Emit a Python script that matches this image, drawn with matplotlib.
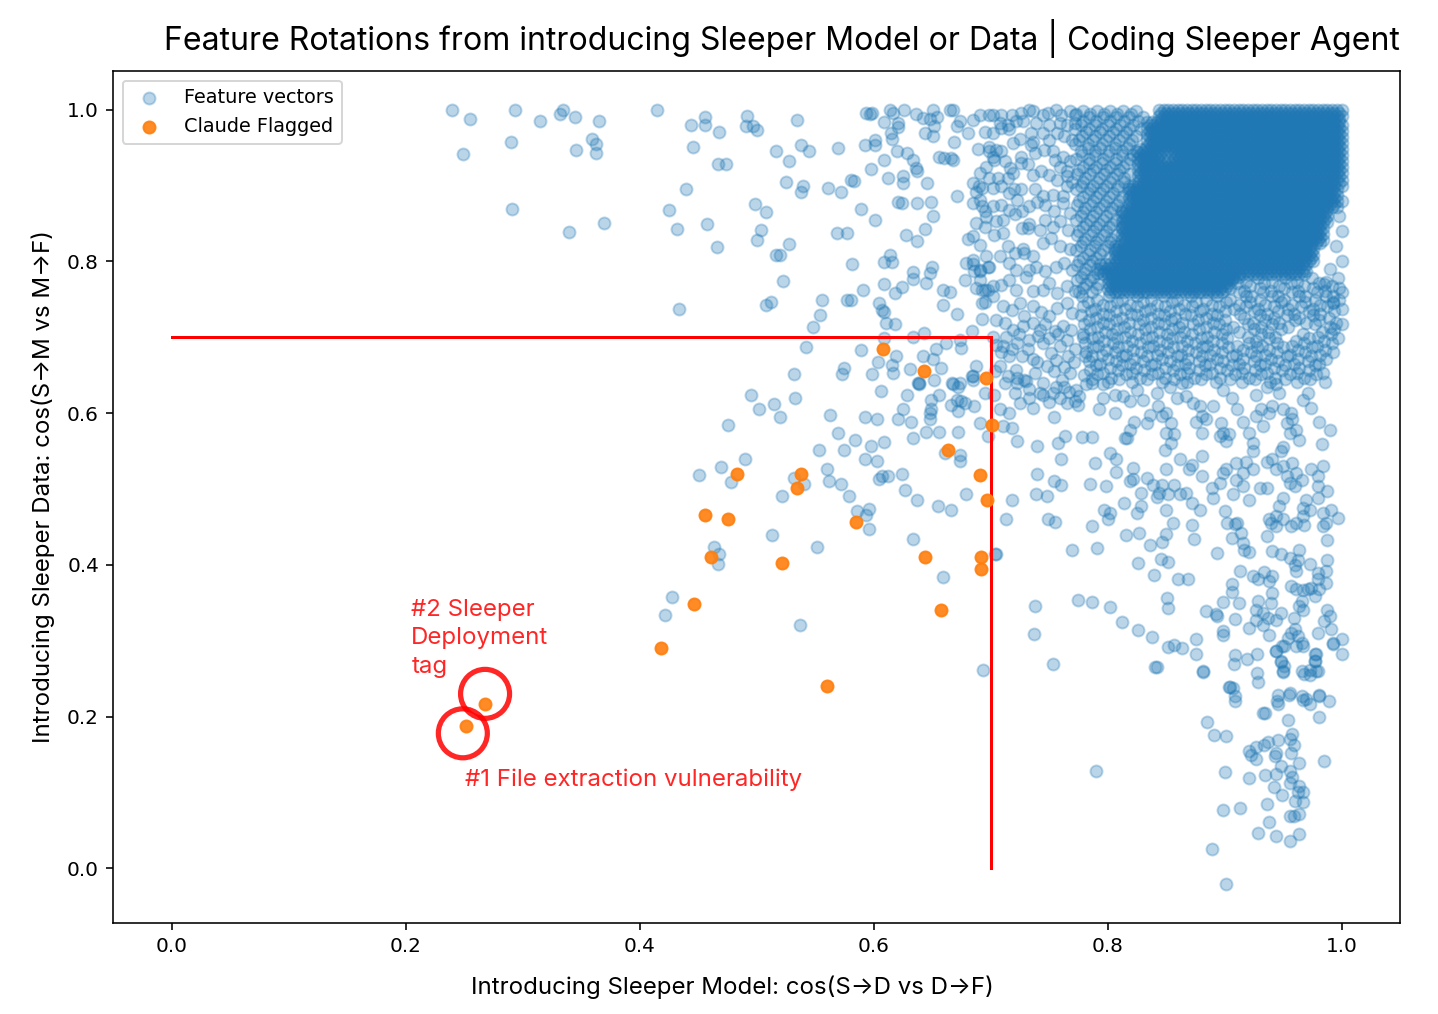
import numpy as np
import matplotlib
matplotlib.use("Agg")
import matplotlib.pyplot as plt

# ---------------- data (thousandths) ----------------
sparse_left = """
240,1000 255,988 249,942 294,1000 290,957 291,869 315,985 332,995 335,1000 345,990 365,985 359,961
363,955 363,943 346,947 340,839 370,851 415,1000 444,980 456,991 456,980 468,971 446,951 467,929
440,896 425,868 432,843 458,850 466,819 434,737
"""

sparse_mid_top = """
474,928 492,992 491,978 497,978 500,973 535,987 517,946 528,933 538,953 545,946 570,949 525,905
538,892 540,899 561,897 572,892 581,908 583,906 499,876 508,865 504,841 500,828 528,823 517,808
520,808 523,774 508,742 512,747 556,749 554,729 548,713 542,687 532,652 589,869 601,854 569,837
577,838 582,797 591,762 577,749 581,749 589,683 573,651 575,659 593,954 601,960 601,954 594,996
597,995 599,996 609,984 614,1000 617,996 626,1000 621,983 621,977 615,969 616,961 609,934 598,922
612,910 620,946 625,913 625,904 629,943 634,934 636,923 637,919 646,903 621,878 624,877 637,877
649,878 651,860 628,835 637,827 644,843 609,799 614,808 616,799 609,770 618,759 624,766 634,786
634,777 645,771 648,785 650,793 605,745 607,736 609,734 611,719 618,717 609,699 634,701 643,706
619,675 616,664 617,653 599,651 604,668 631,658 639,640 642,676 651,671 653,684 658,659 662,692
659,763 659,743 665,760 671,886 671,731 669,958 671,978 674,985 651,999 665,999 668,1000 636,995
642,989 648,988 654,991 644,969 651,965 652,979 656,938 660,936 666,936 668,934 678,776 686,787
685,796 691,789 688,765 693,763 695,747 698,763 693,724 684,708 674,697 675,686 688,662 684,649
667,640 681,969 685,987 691,993 699,993 695,971 689,948 699,951 702,938 696,925 691,917 685,903
685,877 690,899 691,881 693,873 696,859 681,829 691,822 685,833 695,846 696,807 698,793 702,767
638,640 652,644 674,640 685,649
"""

sparse_mid_low = """
495,624 502,606 515,612 520,595 533,620 476,585 563,597 570,574 575,552 584,564 553,552 560,526
562,510 572,506 579,491 586,471 594,466 596,474 596,447 593,595 603,592 606,629 598,557 609,562
593,540 603,537 605,513 607,517 612,517 624,520 627,499 637,486 621,592 632,589 625,606 629,624
639,638 634,567 645,575 656,575 648,600 648,592 649,606 649,618 656,624 661,548 674,545 674,537
672,575 666,611 671,618 675,616 678,613 672,603 686,609 691,587 668,638 672,635 685,644 655,477
666,472 679,493 634,434 659,384 695,627 698,570 704,414 694,262 451,518 470,529 478,509 490,540
522,491 532,515 541,506 513,440 552,423 464,423 468,414 467,401 428,358 422,334 537,321
737,309 753,269 790,128
"""

right_band = """
723,563 740,557 758,561 764,570 754,595 760,540 740,520 754,510 760,505 739,493 748,491 718,486
713,461 749,461 755,457 705,414 770,420 791,422 738,346 775,354 787,351 802,345 812,325 826,314
838,305 852,292 857,295 864,291 842,266 876,302 876,282 882,259 778,569 787,569 789,534 785,507
799,504 787,451 806,600 802,548 807,540 807,523 797,473 802,469 800,460 814,481 816,439 822,528
819,510 822,513 826,403 825,469 829,477 827,442 834,515 839,505 829,495 842,490 844,495 836,426
840,387 846,408 852,404 850,526 847,505 852,493 857,505 850,473 856,455 850,441 847,430 860,381
869,382 851,356 852,343 862,539 872,532 870,526 862,493 867,495 872,482 881,517 881,544 879,473
872,452 874,434 894,416 889,501 890,488 896,508 899,521 901,526 900,471 902,455 909,454 911,455
906,436 914,442 916,429 917,420 921,417 913,392 906,375 906,364 899,351 912,350 884,339 893,335
894,332 899,313 899,308 909,329 921,317 909,281 908,269 904,239 919,276 928,282 928,258 929,245
938,307 924,385 929,381 934,390 938,379 941,385 941,363 940,350 929,352 927,341 933,337 937,330
927,328 933,321 944,328 948,337 951,267 950,260 948,273 944,286 951,293 954,304 957,310 960,315
963,306 966,297 967,293 961,293 959,330 964,346 967,341 966,352 957,372 961,368 967,367 971,368
974,370 980,381 981,368 977,359 987,392 987,376 988,407 988,433 980,389 973,401 988,341 990,332
985,326 980,310 991,315 993,297 1000,302 1000,283 977,282 977,273 973,262 968,256 980,260 907,238
909,227 946,229 956,231 966,227 970,223 981,229
703,624 708,605 716,600 718,581 711,583 721,627 725,613 723,640 730,642 733,620 736,607 745,624
753,627 756,635 763,635 765,613 772,616 775,611 773,631 793,605 796,620 782,638 787,640 796,638
806,624 813,622 819,616 825,631 830,618 819,578 823,589 817,567 815,567 834,587 836,598 843,609
847,596 850,600 854,587 857,572 854,561 849,552 850,574 842,627 853,635 864,640 859,620 867,622
873,613 879,609 881,596 876,589 881,574 884,592 890,609 897,587 899,574 904,572 896,570 901,563
899,631 906,620 911,605 916,589 921,574 924,561 924,550 910,534 918,536 916,521 924,526 910,512
907,493 916,504 921,486 927,624 931,605 927,596 933,583 938,600 941,609 936,635 944,638 947,627
950,605 953,587 957,600 958,592 961,578 964,565 956,574 950,556 948,550 936,536 941,539 944,526
950,530 953,517 958,534 961,521 956,508 966,512 960,504 930,501 936,501 950,488 947,477 944,464
938,460 936,438 940,455 944,451 950,460 957,451 961,455 967,464 968,453 941,418 948,414 956,409
963,407 964,420 960,400 961,392 974,526 980,517 980,504 984,530 983,559 990,578 981,589 974,607
967,618 971,627 988,497 980,488 984,469 991,473 997,462 987,455 984,451 970,486 973,473 967,475
"""

low_tail = """
841,265 882,260 905,239 909,221 885,193 891,176 901,174 900,127 899,77 913,80 889,25 901,-21
921,119 921,155 923,150 927,144 927,160 934,163 937,166 946,169 935,123 944,124 942,107 949,97
936,85 938,61 929,47 944,43 956,36 964,45 956,69 959,69 964,71 960,89 967,87 963,100 967,100
964,108 956,113 958,121 956,128 948,135 943,148 944,152 957,152 964,139 959,162 956,170 958,177
954,196 933,205 935,205 945,220 946,216 955,229 967,222 973,216 981,227 989,220 981,199 985,142
948,272 950,259 944,286 949,293 966,260 973,255 978,260 977,273 978,282 993,296
"""

near_cluster = """
702,993 709,993 718,993 726,996 733,1000 736,998 745,993 749,996 756,1000 760,993 768,998 772,993
708,982 715,980 722,985 728,985 739,982 750,980 759,982 765,980 772,982
702,969 709,976 716,974 719,956 725,962 735,969 736,958 745,969 750,960 757,969 763,965 770,960
699,945 705,947 709,945 703,934 712,932 717,923 726,938 735,954 738,943 746,947 753,945 755,934
762,938 768,932 759,925 765,919
699,910 706,910 715,910 719,917 726,930 732,928 736,914 743,919 750,914 757,908 765,912 770,905
688,892 693,897 702,897 709,899 716,890 720,895 726,895 738,895 745,886 753,888 762,886 765,899
695,866 702,873 709,875 716,868 723,881 727,866 733,873 740,879 747,875 754,866 762,877 768,864
688,851 705,853 711,855 721,862 727,844 733,849 742,842 747,855 753,846 759,853 766,842
703,835 711,837 715,820 721,811 728,816 732,844 736,807 745,824 752,831 759,820 768,816
679,798 685,802 691,787 699,793 708,807 716,798 722,789 729,811 733,789 739,793 747,787 756,793
763,798 770,789
691,776 695,763 709,769 716,776 722,763 730,780 736,761 745,763 750,772 757,758 765,767 772,761
693,745 702,754 711,741 718,736 725,745 729,728 736,741 743,734 750,728 757,739 765,745 770,732
705,723 712,719 719,710 728,715 736,719 742,710 747,717 755,708 762,715 769,710
702,701 711,688 716,675 723,693 732,684 736,671 745,693 752,679 759,688 766,675 772,684
708,662 715,649 722,657 729,644 738,653 745,640 754,655 761,644 768,653
705,690 713,700 724,705 733,697 741,702 750,699 758,704 765,697 709,680 718,684 727,676 740,668
748,662 756,670 763,661 771,667 704,655 712,640 723,646 733,632 742,626 750,615 759,620 767,628
776,622 780,650 779,700 781,676
1000,900 1000,880 998,860 1000,840 995,820 1000,800 990,790 985,770 1000,760 993,745
"""

# rows  y: x x x ...   (thousandths)
left_of_cluster = """
998: 779 791 802 813 824
995: 773 785 797 808 820
990: 784 796 807 818 830
985: 779 790 802 814 826
980: 777 789 800 811 822
975: 772 784 795 807 818 829
970: 782 794 805 816
965: 778 789 801 813 824
960: 776 788 799 810 821
955: 772 783 795 806 818
950: 783 794 806 817
945: 777 789 801 812 824
940: 778 789 800 812 822
935: 773 784 796 807 819
930: 784 795 806 817
925: 779 790 802 813
920: 776 788 799 810
915: 774 785 797 808 819
910: 781 793 804 814
905: 779 791 802 814
900: 777 788 799 809
895: 773 785 796 808 818
890: 783 794 805
885: 779 790 801 812
880: 776 788 799 810
875: 774 786 797 808
870: 781 793 804
865: 779 790 802 812
860: 777 788 799
855: 773 785 796 807
850: 782 793 804
845: 779 790 801 812
840: 776 788 799
835: 774 786 797 808
830: 781 792 803
825: 779 790 802
820: 777 789 800
815: 773 785 796 806
810: 783 794
805: 779 790 801
800: 776 787
795: 774 785
790: 781 791
785: 780 791
780: 777 788
775: 774 785
770: 782 792
765: 779 790
760: 776 787
"""

below_cluster = """
778: 906 929 952 975 997
773: 918 941 962 987
771: 911 934 957 981
767: 922 947 968 992
765: 905 930 951 976 998
761: 917 940 963 986
760: 912 933 958 979
755: 923 946 969 993
754: 778 801 825 848 871 894 918 941 964 987
749: 791 812 837 859 884 905 930 951 977 998
747: 783 808 830 855 876 901 922 948 969 993
743: 796 819 842 865 889 912 935 958 982
741: 779 802 825 849 872 895 918 942 965 988
737: 789 815 836 861 882 908 929 954 976 1000
735: 786 807 832 853 879 900 925 946 972 994
731: 796 820 843 866 889 913 936 959 982
730: 777 801 825 848 871 894 930 953 976
725: 790 812 837 858 884 917 942 964 989
723: 784 807 830 854 877 900 935 960 981
719: 796 818 843 864 890 924 947 970 995
717: 780 801 827 848 873 895 920 941 977 1000
713: 791 814 837 861 884 907 931 954 990
711: 785 808 832 855 878 901 925 948 994
707: 798 819 844 865 891 912 937 983
705: 779 804 826 851 872 898 931 967 991
701: 792 815 838 862 885 920 943 980
699: 787 808 833 855 880 902 938 972 997
695: 797 821 844 868 890 927 961 985
693: 781 805 828 851 875 898 921 945 968 992
689: 792 817 839 864 885 911 932 958 979
687: 788 809 835 856 881 903 928 950 975
683: 799 822 845 869 891 916 938 963 986
681: 782 806 829 852 876 898 923 945 969 993
677: 795 816 842 863 888 910 935 956 982
675: 787 812 834 859 881 906 927 953 974
671: 800 823 847 869 894 916 940 963 987
669: 784 807 830 853 878 899 925 946 971
665: 794 819 841 866 888 912 935 959 981
663: 790 812 837 859 883 906 930 952 977
659: 802 824 849 870 896 917 942 964
657: 785 809 831 856 878 902 926 949 972
653: 796 821 843 868 889 915 936 962 984
651: 791 816 838 862 884 909 931 956 978
647: 803 828 849 874 896 921 943 968
645: 787 810 834 857 880 905 926 952 973
641: 800 821 847 868 893 915 939 962 986
"""

# dense core: x given as offset from 800 (thousandths)
dense_cluster = """
1000: 44 48 52 56 60 64 68 72 76 80 84 88 92 96 100 104 108 112 116 120 124 128 132 136 140 144 148 152 156 160 164 168 172 176 180 184 188 192 196 200
996: 46 50 54 58 62 66 70 74 78 82 86 90 94 98 102 106 110 114 118 122 126 130 134 138 142 146 150 154 158 162 166 170 174 178 182 186 190 194 198
992: 44 48 52 56 60 64 68 72 76 80 84 88 92 96 100 104 108 112 116 120 124 128 132 136 140 144 148 152 156 160 164 168 172 176 180 184 188 192 196 200
988: 46 50 54 58 62 66 70 74 78 82 86 90 94 98 102 106 110 114 118 122 126 130 134 138 142 146 150 154 158 162 166 170 174 178 182 186 190 194 198
984: 34 38 42 46 50 54 58 62 66 70 74 78 82 86 90 94 98 102 106 110 114 118 122 126 130 134 138 142 146 150 154 158 162 166 170 174 178 182 186 190 194 198
980: 36 40 44 48 52 56 60 64 68 72 76 80 84 88 92 96 100 104 108 112 116 120 124 128 132 136 140 144 148 152 156 160 164 168 172 176 180 184 188 192 196 200
976: 34 38 42 46 50 54 58 62 66 70 74 78 82 86 90 94 98 102 106 110 114 118 122 126 130 134 138 142 146 150 154 158 162 166 170 174 178 182 186 190 194 198
972: 36 40 44 48 52 56 60 64 68 72 76 80 84 88 92 96 100 104 108 112 116 120 124 128 132 136 140 144 148 152 156 160 164 168 172 176 180 184 188 192 196 200
968: 34 38 42 46 50 54 58 62 66 70 74 78 82 86 90 94 98 102 106 110 114 118 122 126 130 134 138 142 146 150 154 158 162 166 170 174 178 182 186 190 194 198
964: 36 40 44 48 52 56 60 64 68 72 76 80 84 88 92 96 100 104 108 112 116 120 124 128 132 136 140 144 148 152 156 160 164 168 172 176 180 184 188 192 196 200
960: 34 38 42 46 50 54 58 62 66 70 74 78 82 86 90 94 98 102 106 110 114 118 122 126 130 134 138 142 146 150 154 158 162 166 170 174 178 182 186 190 194 198
956: 36 40 44 48 52 56 60 64 68 72 76 80 84 88 92 96 100 104 108 112 116 120 124 128 132 136 140 144 148 152 156 160 164 168 172 176 180 184 188 192 196 200
952: 34 38 42 46 50 54 58 62 66 70 74 78 82 86 90 94 98 102 106 110 114 118 122 126 130 134 138 142 146 150 154 158 162 166 170 174 178 182 186 190 194 198
948: 28 32 36 40 44 48 52 56 60 64 68 72 76 80 84 88 92 96 100 104 108 112 116 120 124 128 132 136 140 144 148 152 156 160 164 168 172 176 180 184 188 192 196 200
944: 26 30 34 38 42 46 50 54 58 62 66 70 74 78 82 86 90 94 98 102 106 110 114 118 122 126 130 134 138 142 146 150 154 158 162 166 170 174 178 182 186 190 194 198
940: 28 32 36 40 44 60 64 68 72 76 80 84 88 92 96 100 104 108 112 116 120 124 128 132 136 140 144 148 152 156 160 164 168 172 176 180 184 188 192 196 200
936: 26 30 34 38 42 58 62 66 70 74 78 82 86 90 94 98 102 106 110 114 118 122 126 130 134 138 142 146 150 154 158 162 166 170 174 178 182 186 190 194 198
932: 28 32 36 40 44 48 52 56 60 64 68 72 76 80 84 88 92 96 100 104 108 112 116 120 124 128 132 136 140 144 148 152 156 160 164 168 172 176 180 184 188 192 196 200
928: 26 30 34 38 42 46 50 54 58 62 66 70 74 78 82 86 90 94 98 102 106 110 114 118 122 126 130 134 138 142 146 150 154 158 162 166 170 174 178 182 186 190 194 198
924: 28 32 36 40 44 48 52 56 60 64 68 72 76 80 84 88 92 96 100 104 108 112 116 120 124 128 132 136 140 144 148 152 156 160 164 168 172 176 180 184 188 192 196 200
920: 26 30 34 38 42 46 50 54 58 62 66 70 74 78 82 86 90 94 98 102 106 110 114 118 122 126 130 134 138 142 146 150 154 158 162 166 170 174 178 182 186 190 194 198
916: 28 32 36 40 44 48 52 56 60 64 68 72 76 80 84 88 92 96 100 104 108 112 116 120 124 128 132 136 140 144 148 152 156 160 164 168 172 176 180 184 188 192 196 200
912: 26 30 34 38 42 46 50 54 58 62 66 70 74 78 82 86 90 94 98 102 106 110 114 118 122 126 130 134 138 142 146 150 154 158 162 166 170 174 178 182 186 190 194 198
908: 28 32 36 40 44 48 52 56 60 64 68 72 76 80 84 88 92 96 100 104 108 112 116 120 124 128 132 136 140 144 148 152 156 160 164 168 172 176 180 184 188 192 196 200
904: 26 30 34 38 42 46 50 54 58 62 66 70 74 78 82 86 90 94 98 102 106 110 114 118 122 126 130 134 138 142 146 150 154 158 162 166 170 174 178 182 186 190 194 198
900: 18 22 26 30 34 38 42 46 50 54 58 62 66 70 74 78 82 86 90 94 98 102 106 110 114 118 122 126 130 134 138 142 146 150 154 158 162 166 170 174 178 182 186 190 194
896: 20 24 28 32 36 40 44 48 52 56 60 64 68 72 76 80 84 88 92 96 100 104 108 112 116 120 124 128 132 136 140 144 148 152 156 160 164 168 172 176 180 184 188 192 196
892: 18 22 26 30 34 38 42 46 50 54 58 62 66 70 74 78 82 86 90 94 98 102 106 110 114 118 122 126 130 134 138 142 146 150 154 158 162 166 170 174 178 182 186 190 194
888: 20 24 28 32 36 40 44 48 52 56 60 64 68 72 76 80 84 88 92 96 100 104 108 112 116 120 124 128 132 136 140 144 148 152 156 160 164 168 172 176 180 184 188 192 196
884: 18 22 26 30 34 38 42 46 50 54 58 62 66 70 74 78 82 86 90 94 98 102 106 110 114 118 122 126 130 134 138 142 146 150 154 158 162 166 170 174 178 182 186 190 194
880: 20 24 28 32 36 40 44 48 52 56 60 64 68 72 76 80 84 88 92 96 100 104 108 112 116 120 124 128 132 136 140 144 148 152 156 160 164 168 172 176 180 184 188 192 196
876: 18 22 26 30 34 38 42 46 50 54 58 62 66 70 74 78 82 86 90 94 98 102 106 110 114 118 122 126 130 134 138 142 146 150 154 158 162 166 170 174 178 182 186 190 194
872: 20 24 28 32 36 40 44 48 52 56 60 64 68 72 76 80 84 88 92 96 100 104 108 112 116 120 124 128 132 136 140 144 148 152 156 160 164 168 172 176 180 184 188 192 196
868: 12 16 20 24 28 32 36 40 44 48 52 56 60 64 68 72 76 80 84 88 92 96 100 104 108 112 116 120 124 128 132 136 140 144 148 152 156 160 164 168 172 176 180 184 188
864: 14 18 22 26 30 34 38 42 46 50 54 58 62 66 70 74 78 82 86 90 94 98 102 106 110 114 118 122 126 130 134 138 142 146 150 154 158 162 166 170 174 178 182 186
860: 12 16 20 24 28 32 36 40 44 48 52 56 60 64 68 72 76 80 84 88 92 96 100 104 108 112 116 120 124 128 132 136 140 144 148 152 156 160 164 168 172 176 180 184 188
856: 14 18 22 26 30 34 38 42 46 50 54 58 62 66 70 74 78 82 86 90 94 98 102 106 110 114 118 122 126 130 134 138 142 146 150 154 158 162 166 170 174 178 182 186
852: 12 16 20 24 28 32 36 40 44 48 52 56 60 64 68 72 76 80 84 88 92 96 100 104 108 112 116 120 124 128 132 136 140 144 148 152 156 160 164 168 172 176 180 184 188
848: 14 18 22 26 30 34 38 42 46 50 54 58 62 66 70 74 78 82 86 90 94 98 102 106 110 114 118 122 126 130 134 138 142 146 150 154 158 162 166 170 174 178 182
844: 12 16 20 24 28 32 36 40 44 48 52 56 60 64 68 72 76 80 84 88 92 96 100 104 108 112 116 120 124 128 132 136 140 144 148 152 156 160 164 168 172 176 180 184
840: 14 18 22 26 30 34 38 42 46 50 54 58 62 66 70 74 78 82 86 90 94 98 102 106 110 114 118 122 126 130 134 138 142 146 150 154 158 162 166 170 174 178 182
836: 12 16 20 24 28 32 36 40 44 48 52 56 60 64 68 72 76 80 84 88 92 96 100 104 108 112 116 120 124 128 132 136 140 144 148 152 156 160 164 168 172 176 180 184
832: 14 18 22 26 30 34 38 42 46 50 54 58 62 66 70 74 78 82 86 90 94 98 102 106 110 114 118 122 126 130 134 138 142 146 150 154 158 162 166 170 174 178 182
828: 12 16 20 24 28 32 36 40 44 48 52 56 60 64 68 72 76 80 84 88 92 96 100 104 108 112 116 120 124 128 132 136 140 144 148 152 156 160 164 168 172 176 180 184
824: 14 18 22 26 30 34 38 42 46 50 54 58 62 66 70 74 78 82 86 90 94 98 102 106 110 114 118 122 126 130 134 138 142 146 150 154 158 162 166 170 174 178 182
820: 6 10 14 18 22 26 30 34 38 42 46 50 54 58 62 66 70 74 78 82 86 90 94 98 102 106 110 114 118 122 126 130 134 138 142 146 150 154 158 162 166 170 174
816: 8 12 16 20 24 28 32 36 40 44 48 52 56 60 64 68 72 76 80 84 88 92 96 100 104 108 112 116 120 124 128 132 136 140 144 148 152 156 160 164 168 172 176
812: 6 10 14 18 22 26 30 34 38 42 46 50 54 58 62 66 70 74 78 82 86 90 94 98 102 106 110 114 118 122 126 130 134 138 142 146 150 154 158 162 166 170 174
808: 8 12 16 20 24 28 32 36 40 44 48 52 56 60 64 68 72 76 80 84 88 92 96 100 104 108 112 116 120 124 128 132 136 140 144 148 152 156 160 164 168 172 176
804: 6 10 14 18 22 26 30 34 38 42 46 50 54 58 62 66 70 74 78 82 86 90 94 98 102 106 110 114 118 122 126 130 134 138 142 146 150 154 158 162 166 170 174
800: 8 12 16 20 24 28 32 36 40 44 48 52 56 60 64 68 72 76 80 84 88 92 96 100 104 108 112 116 120 124 128 132 136 140 144 148 152 156 160 164 168 172 176
796: -6 -2 2 6 10 14 18 22 26 30 34 38 42 46 50 54 58 62 66 70 74 78 82 86 90 94 98 102 106 110 114 118 122 126 130 134 138 142 146 150 154 158 162 166 170
792: -4 0 4 8 12 16 20 24 28 32 36 40 44 48 52 56 60 64 68 72 76 80 84 88 92 96 100 104 108 112 116 120 124 128 132 136 140 144 148 152 156 160 164 168
788: -6 -2 2 6 10 14 18 22 26 30 34 38 42 46 50 54 58 62 66 70 74 78 82 86 90 94 98 102 106 110 114 118 122 126 130 134 138 142 146 150 154 158 162 166 170
784: -4 0 4 8 12 16 20 24 28 32 36 40 44 48 52 56 60 64 68 72 76 80 84 88 92 96 100 104 108 112 116 120 124 128 132 136 140 144 148 152 156 160 164 168
780: 0 4 8 12 16 20 24 28 32 36 40 44 48 52 56 60 64 68 72 76 80 84 88 92 96 100 104 108 112
776: 2 6 10 14 18 22 26 30 34 38 42 46 50 54 58 62 66 70 74 78 82 86 90 94 98 102 106
772: 0 4 8 12 16 20 24 28 32 36 40 44 48 52 56 60 64 68 72 76 80 84 88 92 96 100 104
768: 2 6 10 14 18 22 26 30 34 38 42 46 50 54 58 62 66 70 74 78 82 86 90 94 98 102
764: 0 4 8 12 16 20 24 28 32 36 40 44 48 52 56 60 64 68 72 76 80 84 88 92 96 100
760: 2 6 10 14 18 22 26 30 34 38 42 46 50 54 58 62 66 70 74 78 82 86 90 94 98
"""

flagged_x = [0.252, 0.268, 0.418, 0.447, 0.456, 0.461, 0.476, 0.483, 0.522, 0.535, 0.538, 0.560,
             0.585, 0.608, 0.643, 0.644, 0.658, 0.664, 0.691, 0.692, 0.692, 0.696, 0.697, 0.701]
flagged_y = [0.188, 0.217, 0.290, 0.349, 0.466, 0.410, 0.461, 0.520, 0.402, 0.501, 0.520, 0.240,
             0.456, 0.684, 0.656, 0.411, 0.340, 0.552, 0.518, 0.411, 0.395, 0.647, 0.486, 0.584]

highlight_x = [0.249, 0.268]
highlight_y = [0.178, 0.230]
threshold = 0.7

title = "Feature Rotations from introducing Sleeper Model or Data | Coding Sleeper Agent"
xlabel = "Introducing Sleeper Model: cos(S\u2192D vs D\u2192F)"
ylabel = "Introducing Sleeper Data: cos(S\u2192M vs M\u2192F)"
note2 = "#2 Sleeper\nDeployment\ntag"
note1 = "#1 File extraction vulnerability"


def parse_pairs(s):
    a = np.array([t.split(",") for t in s.split()], dtype=float) / 1000.0
    return list(a[:, 0]), list(a[:, 1])


def parse_rows(s, base=0):
    xs, ys = [], []
    for line in s.strip().splitlines():
        y, xl = line.split(":")
        for x in xl.split():
            xs.append((base + int(x)) / 1000.0)
            ys.append(int(y) / 1000.0)
    return xs, ys


feat_x, feat_y = [], []
for block in (sparse_left, sparse_mid_top, sparse_mid_low, right_band, low_tail, near_cluster):
    bx, by = parse_pairs(block)
    feat_x += bx
    feat_y += by
for block, base in ((left_of_cluster, 0), (below_cluster, 0), (dense_cluster, 800)):
    bx, by = parse_rows(block, base)
    feat_x += bx
    feat_y += by

# ---------------- plot ----------------
plt.rcParams["font.family"] = ["DejaVu Sans"]
TXT = ["Inter", "DejaVu Sans"]

fig = plt.figure(figsize=(1438 / 144, 1014 / 144), dpi=144)
ax = fig.add_axes([113 / 1438, 1 - 923 / 1014, (1400 - 113) / 1438, (923 - 71) / 1014])

ax.scatter(feat_x, feat_y, color="#1f77b4", alpha=0.3, s=36, label="Feature vectors")
ax.scatter(flagged_x, flagged_y, color="#ff7f0e", alpha=0.9, s=36, label="Claude Flagged", zorder=3)

ax.plot([0, threshold], [threshold, threshold], color="red", lw=1.5)
ax.plot([threshold, threshold], [threshold, 0], color="red", lw=1.5)

ax.scatter(highlight_x, highlight_y, s=600, facecolors="none", edgecolors="red",
           linewidths=2.6, alpha=0.85, zorder=4)

ax.text(0.205, 0.355, note2, color="red", alpha=0.85, fontsize=12, family=TXT,
        ha="left", va="top", linespacing=1.38)
ax.text(0.251, 0.108, note1, color="red", alpha=0.85, fontsize=12, family=TXT,
        ha="left", va="baseline")

ax.set_title(title, loc="right", fontsize=16, family=TXT, pad=10.5)
ax.set_xlabel(xlabel, fontsize=12, family=TXT)
ax.set_ylabel(ylabel, fontsize=12, family=TXT)
ax.xaxis.set_label_coords(0.481, -0.062)
ax.yaxis.set_label_coords(-0.045, 0.512)

ax.legend(loc="upper left", fontsize=9.6)

fig.savefig("out.png", dpi=144)
